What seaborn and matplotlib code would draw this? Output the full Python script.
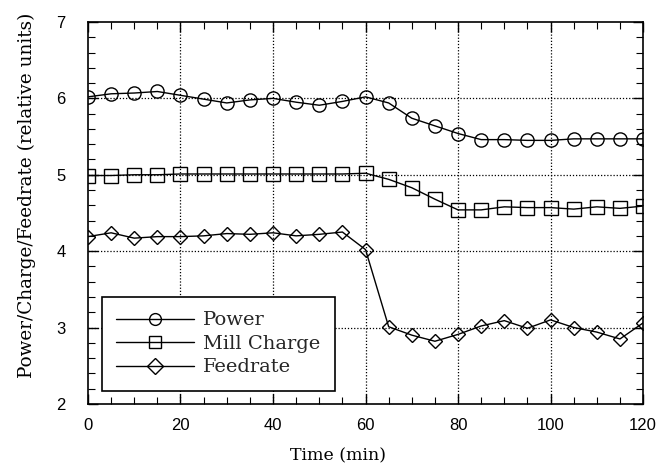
import numpy as np
import pandas as pd
import matplotlib
matplotlib.use("Agg")
import matplotlib.pyplot as plt
import seaborn as sns
from matplotlib.ticker import MultipleLocator

time_min = [0, 5, 10, 15, 20, 25, 30, 35, 40, 45, 50, 55, 60,
            65, 70, 75, 80, 85, 90, 95, 100, 105, 110, 115, 120]
power = [6.02, 6.06, 6.07, 6.09, 6.04, 5.99, 5.94, 5.98, 6.00, 5.95, 5.91, 5.96, 6.02,
         5.94, 5.74, 5.64, 5.54, 5.46, 5.46, 5.45, 5.45, 5.47, 5.47, 5.47, 5.47]
mill_charge = [4.99, 4.99, 5.00, 5.00, 5.01, 5.01, 5.01, 5.01, 5.01, 5.01, 5.01, 5.01, 5.02,
               4.94, 4.83, 4.68, 4.54, 4.54, 4.58, 4.57, 4.57, 4.55, 4.58, 4.56, 4.59]
feedrate = [4.19, 4.24, 4.17, 4.19, 4.19, 4.20, 4.23, 4.22, 4.24, 4.20, 4.22, 4.25, 4.02,
            3.01, 2.90, 2.82, 2.91, 3.02, 3.09, 2.99, 3.10, 3.00, 2.94, 2.85, 3.06]
series_names = ["Power", "Mill Charge", "Feedrate"]
x_ticks = [0, 20, 40, 60, 80, 100, 120]
y_ticks = [2, 3, 4, 5, 6, 7]

df = pd.DataFrame({
    "Time": time_min * 3,
    "Value": power + mill_charge + feedrate,
    "Series": [series_names[0]] * len(time_min) + [series_names[1]] * len(time_min)
              + [series_names[2]] * len(time_min),
})

sns.set_theme(style="white")
plt.rcParams["font.family"] = ["DejaVu Serif"]

fig = plt.figure(figsize=(6.64, 4.68), dpi=100)
ax = fig.add_axes([0.1325, 0.137, 0.836, 0.816])

markers = {"Power": "o", "Mill Charge": "s", "Feedrate": "D"}
msize = {"Power": 9.5, "Mill Charge": 9.5, "Feedrate": 7.5}
for name in series_names:
    sub = df[df["Series"] == name]
    sns.lineplot(data=sub, x="Time", y="Value", ax=ax, color="black", linewidth=1.0,
                 marker=markers[name], markersize=msize[name], markerfacecolor="none",
                 markeredgecolor="black", markeredgewidth=1.0, label=name, zorder=3)

ax.set_xlim(0, 120)
ax.set_ylim(2, 7)
ax.set_xticks(x_ticks)
ax.set_yticks(y_ticks)
ax.xaxis.set_minor_locator(MultipleLocator(5))
ax.yaxis.set_minor_locator(MultipleLocator(0.2))
ax.tick_params(axis="both", which="both", direction="in", top=True, right=True,
               bottom=True, left=True, color="black")
ax.tick_params(axis="both", which="major", length=7, width=1.0)
ax.tick_params(axis="both", which="minor", length=5, width=0.8)
ax.tick_params(axis="x", which="major", pad=10)
ax.tick_params(axis="y", which="major", pad=16)
for lab in ax.get_xticklabels() + ax.get_yticklabels():
    lab.set_fontfamily(["Liberation Sans", "DejaVu Sans"])
    lab.set_fontsize(12)
    lab.set_color("black")

for v in [20, 40, 60, 80, 100]:
    ax.axvline(v, color="black", linestyle=(0, (1, 1.5)), linewidth=0.9, zorder=1)
for v in [3, 4, 5, 6]:
    ax.axhline(v, color="black", linestyle=(0, (1, 1.5)), linewidth=0.9, zorder=1)

for sp in ax.spines.values():
    sp.set_color("black")
    sp.set_linewidth(1.2)

ax.set_xlabel("Time (min)", fontsize=12.5, color="black")
ax.xaxis.set_label_coords(0.45, -0.113)
ax.set_ylabel("Power/Charge/Feedrate (relative units)", fontsize=13.2, color="black")
ax.yaxis.set_label_coords(-0.094, 0.545)

leg = ax.legend(loc="lower left", bbox_to_anchor=(0.025, 0.034), fontsize=14,
                frameon=True, fancybox=False, edgecolor="black", framealpha=1,
                handlelength=4.0, borderpad=0.75, labelspacing=0.28, handletextpad=0.45,
                borderaxespad=0)
leg.get_frame().set_linewidth(1.2)
for h in leg.legend_handles:
    h.set_markersize(8.5)

fig.savefig("out.png", dpi=100)
